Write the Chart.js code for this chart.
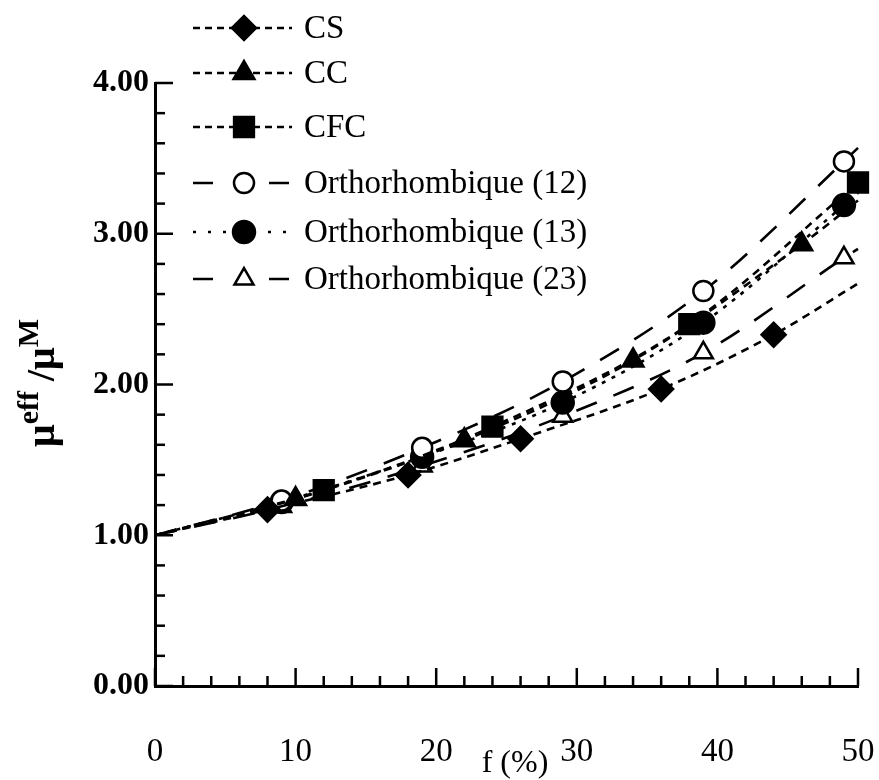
<!DOCTYPE html>
<html>
<head>
<meta charset="utf-8">
<script src="https://cdn.jsdelivr.net/npm/chart.js@4.4.0/dist/chart.umd.min.js"></script>
<style>
  html, body { margin: 0; padding: 0; background: #fff; }
  #cadre { width: 879px; height: 780px; }
</style>
</head>
<body>
<div id="cadre"><canvas id="graphique"></canvas></div>
<script>
// valeurs : f (%) et mu_eff / mu_M
const fCS = [8, 18, 26, 36, 44];
const muCS = [1.17, 1.40, 1.64, 1.97, 2.33];
const fCC = [10, 22, 34, 46];
const muCC = [1.24, 1.63, 2.16, 2.93];
const fCFC = [12, 24, 38, 50];
const muCFC = [1.30, 1.72, 2.40, 3.34];
const fOrtho = [9, 19, 29, 39, 49];
const muOrtho12 = [1.23, 1.58, 2.02, 2.62, 3.48];
const muOrtho13 = [1.22, 1.52, 1.88, 2.41, 3.19];
const muOrtho23 = [1.19, 1.46, 1.79, 2.21, 2.84];

// extrémités des courbes : départ commun en f = 0, fin en f = 50
const muDepart = 1.00;
const muFinCourbes = [2.67, 3.22, null, 3.57, 3.27, 2.90];

const nomsSeries = ['CS', 'CC', 'CFC', 'Orthorhombique (12)', 'Orthorhombique (13)', 'Orthorhombique (23)'];
const ticksY = [0, 1, 2, 3, 4];
const ticksX = [0, 10, 20, 30, 40, 50];

function construirePoints(fs, mus, fin) {
    const pts = [{ x: 0, y: muDepart, bord: true }];
    fs.forEach((f, i) => pts.push({ x: f, y: mus[i] }));
    if (fin !== null) pts.push({ x: 50, y: fin, bord: true });
    return pts;
}

function serie(i, fs, mus, style) {
    return Object.assign({
        label: nomsSeries[i],
        data: construirePoints(fs, mus, muFinCourbes[i]),
        showLine: true,
        cubicInterpolationMode: 'monotone',
        borderColor: '#000',
        borderWidth: 2.6,
        pointBorderColor: '#000',
        pointBorderWidth: 2.5,
        pointRadius: c => (c.raw && c.raw.bord) ? 0 : style.rayon,
        clip: false
    }, style);
}

const tiretCourt = [8, 6];
const tiretLong = [22, 18];
const pointille = [4, 7];

const jeux = [
    serie(0, fCS, muCS, { pointStyle: 'rectRot', rayon: 12, pointBackgroundColor: '#000', borderDash: tiretCourt, legendeDash: [7, 5] }),
    serie(1, fCC, muCC, { pointStyle: 'triangle', rayon: 12, pointBackgroundColor: '#000', borderDash: tiretCourt, legendeDash: [7, 5] }),
    serie(2, fCFC, muCFC, { pointStyle: 'rect', rayon: 14, pointBackgroundColor: '#000', borderDash: tiretCourt, legendeDash: [7, 5] }),
    serie(3, fOrtho, muOrtho12, { pointStyle: 'circle', rayon: 10, pointBackgroundColor: '#fff', borderDash: tiretLong, legendeDash: [20, 56] }),
    serie(4, fOrtho, muOrtho13, { pointStyle: 'circle', rayon: 11, pointBackgroundColor: '#000', borderDash: pointille, legendeDash: [3, 12] }),
    serie(5, fOrtho, muOrtho23, { pointStyle: 'triangle', rayon: 11, pointBackgroundColor: '#fff', borderDash: tiretLong, legendeDash: [20, 56] })
];

const legendeY = [28, 73, 127, 183, 232, 279];

const decor = {
    id: 'decor',
    afterDraw(chart) {
        const ctx = chart.ctx;
        const sx = chart.scales.x;
        const sy = chart.scales.y;
        ctx.save();
        ctx.strokeStyle = '#000';
        ctx.lineWidth = 2.5;
        ctx.setLineDash([]);

        // graduations vers l'intérieur
        for (let v = 0; v <= 50; v += 2) {
            const px = sx.getPixelForValue(v);
            const lg = v % 10 === 0 ? 18 : 10;
            ctx.beginPath();
            ctx.moveTo(px, sy.bottom);
            ctx.lineTo(px, sy.bottom - lg);
            ctx.stroke();
        }
        for (let i = 0; i <= 20; i++) {
            const py = sy.getPixelForValue(i * 0.2);
            const lg = i % 5 === 0 ? 18 : 10;
            ctx.beginPath();
            ctx.moveTo(sx.left, py);
            ctx.lineTo(sx.left + lg, py);
            ctx.stroke();
        }

        // légende
        ctx.font = '33px "Liberation Serif", "Times New Roman", serif';
        ctx.textBaseline = 'middle';
        chart.data.datasets.forEach((ds, i) => {
            const y = legendeY[i];
            ctx.save();
            ctx.lineWidth = 2.6;
            ctx.setLineDash(ds.legendeDash);
            ctx.beginPath();
            ctx.moveTo(193, y);
            ctx.lineTo(292, y);
            ctx.stroke();
            ctx.restore();
            ctx.save();
            ctx.fillStyle = ds.pointBackgroundColor;
            ctx.strokeStyle = '#000';
            ctx.lineWidth = 2.5;
            ctx.setLineDash([]);
            Chart.helpers.drawPoint(ctx, { pointStyle: ds.pointStyle, radius: ds.rayon, rotation: 0, borderWidth: 2.5 }, 244, y);
            ctx.restore();
            ctx.fillStyle = '#000';
            ctx.fillText(ds.label, 304, y + 1);
        });

        // titre de l'axe x
        ctx.textAlign = 'center';
        ctx.font = '32px "Liberation Serif", "Times New Roman", serif';
        ctx.fillText('f (%)', 515, 764);

        // titre de l'axe y : mu^eff / mu^M
        ctx.translate(54, 383);
        ctx.rotate(-Math.PI / 2);
        ctx.textAlign = 'left';
        ctx.textBaseline = 'alphabetic';
        const grand = 'bold 40px "Liberation Serif", "Times New Roman", serif';
        const petit = 'bold 30px "Liberation Serif", "Times New Roman", serif';
        const morceaux = [['\u03bc', grand, 0], ['eff', petit, -16], [' /', grand, 0], ['\u03bc', grand, 0], ['M', petit, -16]];
        let total = 0;
        morceaux.forEach(m => { ctx.font = m[1]; total += ctx.measureText(m[0]).width; });
        let x = -total / 2;
        morceaux.forEach(m => {
            ctx.font = m[1];
            ctx.fillText(m[0], x, m[2]);
            x += ctx.measureText(m[0]).width;
        });
        ctx.restore();
    }
};

new Chart(document.getElementById('graphique'), {
    type: 'scatter',
    data: { datasets: jeux },
    options: {
        responsive: true,
        maintainAspectRatio: false,
        animation: false,
        layout: { padding: { top: 83, right: 21, left: 0, bottom: 0 } },
        plugins: { legend: { display: false }, tooltip: { enabled: false } },
        scales: {
            x: {
                type: 'linear',
                min: 0,
                max: 50,
                afterFit: s => { s.height = 94; s.paddingLeft = 0; s.paddingRight = 0; },
                afterBuildTicks: s => { s.ticks = ticksX.map(v => ({ value: v })); },
                grid: { display: false, drawTicks: false },
                border: { display: true, color: '#000', width: 3 },
                ticks: {
                    padding: 47,
                    color: '#000',
                    maxRotation: 0,
                    font: { family: '"Liberation Serif", "Times New Roman", serif', size: 33 }
                }
            },
            y: {
                type: 'linear',
                min: 0,
                max: 4,
                afterFit: s => { s.width = 155; s.paddingTop = 0; s.paddingBottom = 0; },
                afterBuildTicks: s => { s.ticks = ticksY.map(v => ({ value: v })); },
                grid: { display: false, drawTicks: false },
                border: { display: true, color: '#000', width: 3 },
                ticks: {
                    padding: 6,
                    color: '#000',
                    callback: v => v.toFixed(2),
                    font: { family: '"Liberation Serif", "Times New Roman", serif', size: 32, weight: 'bold' }
                }
            }
        }
    },
    plugins: [decor]
});
</script>
</body>
</html>
